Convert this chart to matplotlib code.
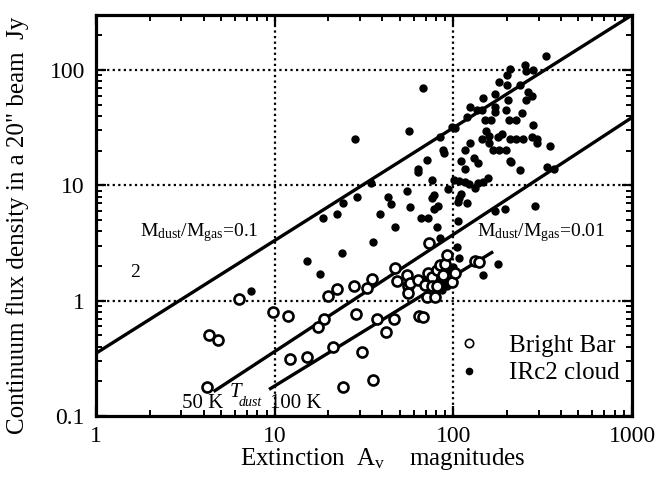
import numpy as np
import matplotlib
matplotlib.use('Agg')
import matplotlib.pyplot as plt
from matplotlib.lines import Line2D

plt.rcParams['font.family'] = ['Liberation Serif', 'DejaVu Serif']
plt.rcParams['mathtext.fontset'] = 'custom'
plt.rcParams['mathtext.rm'] = 'Liberation Serif'
plt.rcParams['mathtext.it'] = 'Liberation Serif:italic'

# Bright Bar (open circles): extinction Av, flux density Jy
bar_av = [6.3, 9.8, 4.3, 4.8, 4.2, 11.9, 18.9, 17.4, 28.5, 37.5, 46.7, 42,
          12.2, 15.2, 21.1, 30.9, 35.3, 24.2, 20, 22.4, 27.8, 32.7, 34.9, 47,
          48.2, 54.8, 55.5, 55.5, 73.3, 132, 139, 64.5, 67.3, 57, 63.6, 69.4,
          71, 79, 72.5, 75.6, 80.6, 84, 89.6, 92, 88, 98, 101.6, 75.6, 80.6]
bar_flux = [1.03, 0.80, 0.50, 0.456, 0.18, 0.735, 0.70, 0.59, 0.76, 0.70, 0.70, 0.54,
            0.31, 0.327, 0.40, 0.356, 0.205, 0.177, 1.10, 1.27, 1.34, 1.30, 1.55, 1.93,
            1.49, 1.67, 1.34, 1.16, 3.18, 2.2, 2.15, 0.73, 0.72, 1.42, 1.51, 1.37,
            1.07, 1.07, 1.73, 1.61, 1.85, 2.04, 2.1, 2.49, 1.67, 1.46, 1.73, 1.33, 1.33]

# IRc2 cloud (filled dots)
irc_av = [7.34, 24.2, 18.6, 22.4, 44.8, 38.8, 47.1, 35.6, 23.7, 15.2, 17.9, 57,
          28.1, 56.5, 34.6, 28.8, 43.2, 55.2, 67.3, 330, 207, 252, 256, 280,
          199, 181, 199, 236, 262, 274, 256, 171, 146, 203, 124, 136, 145, 171,
          196, 241, 119, 150, 162, 205, 225, 98, 102, 84, 280, 152, 186, 178,
          144, 159, 207, 225, 244, 275, 293, 293, 347, 124, 116, 166, 181, 196,
          88, 88.5, 71, 110, 131, 138, 207, 211, 63.6, 63.8, 116, 236, 333, 365,
          75.6, 101, 108, 116, 122, 133, 147, 157, 93, 77.5, 75.6, 111, 108, 106,
          119, 82, 77.5, 285, 194, 171, 65.6, 72.4, 80.6, 106, 84, 105, 108,
          147, 178, 171, 138, 159, 66, 72, 77, 83, 88, 92, 86, 95, 100]
irc_flux = [1.22, 6.98, 5.18, 5.6, 6.9, 5.6, 4.33, 3.2, 2.58, 2.19, 1.70, 6.5,
            25.2, 29.8, 10.4, 7.9, 7.9, 9.0, 70, 132, 103, 110, 98, 101,
            90.6, 79, 74, 74, 65, 59, 55, 62, 57, 55, 48, 45, 45, 43.5,
            45, 42, 39.4, 37, 37, 37, 37, 32.2, 31.5, 26.4, 33.4, 29.8, 27.9, 26.1,
            25.1, 23.2, 25.1, 25.1, 25.1, 26.4, 25.1, 23.2, 21.9, 23.2, 20.2, 20.2, 20.2, 20.2,
            20.3, 19.0, 16.6, 16.3, 17.1, 15.5, 16.3, 15.8, 13.8, 13.1, 13.8, 13.6, 14.5, 13.8,
            11.1, 11.1, 11.0, 10.8, 10.3, 9.4, 10.8, 11.6, 9.25, 8.2, 7.7, 8.5, 7.7, 7.2,
            7.0, 6.6, 6.3, 6.6, 6.3, 6.0, 5.18, 5.18, 4.33, 4.9, 3.47, 2.94, 2.33,
            1.67, 2.08, 48, 10.5, 27, 1.5, 1.6, 1.75, 1.55, 1.4, 1.35, 1.25, 1.8, 1.95]

# model lines (end points)
line_01_av = [1, 1000]
line_01_flux = [0.35, 300]
line_001_av = [4.55, 1000]
line_001_flux = [0.163, 38.8]
line_100k_av = [9.3, 167]
line_100k_flux = [0.17, 2.66]

xticks = [1, 10, 100, 1000]
xtick_labels = ['1', '10', '100', '1000']
yticks = [0.1, 1, 10, 100]
ytick_labels = ['0.1', '1', '10', '100']

fig = plt.figure(figsize=(6.71, 4.83), dpi=100)
ax = fig.add_axes([0.1431, 0.1387, 0.7988, 0.8302])
ax.set_xscale('log')
ax.set_yscale('log')
ax.set_xlim(1, 1000)
ax.set_ylim(0.1, 300)

for xv in [10, 100]:
    ax.axvline(xv, color='black', linestyle=(0, (1, 1.5)), linewidth=1.6, zorder=1)
for yv in [1, 10, 100]:
    ax.axhline(yv, color='black', linestyle=(0, (1, 1.5)), linewidth=1.6, zorder=1)

for lx, ly in [(line_01_av, line_01_flux), (line_001_av, line_001_flux),
               (line_100k_av, line_100k_flux)]:
    ax.plot(lx, ly, color='black', linewidth=2.4, solid_capstyle='butt', zorder=2)

ax.plot(irc_av, irc_flux, linestyle='none', marker='o', ms=5.0,
        color='black', zorder=3)
ax.plot(bar_av, bar_flux, linestyle='none', marker='o', ms=7.2, mfc='white',
        mec='black', mew=1.9, zorder=4)

ax.set_xticks(xticks)
ax.set_xticklabels(xtick_labels)
ax.set_yticks(yticks)
ax.set_yticklabels(ytick_labels)
ax.tick_params(which='both', direction='in', top=True, right=True, labelsize=17)
ax.tick_params(which='major', length=7, width=1.6, pad=7)
ax.tick_params(which='minor', length=4, width=1.4)
ax.tick_params(axis='y', pad=8)
for sp in ax.spines.values():
    sp.set_linewidth(2.3)

ax.set_xlabel(r'Extinction  A$_{\rm v}$    magnitudes', fontsize=18)
ax.xaxis.set_label_coords(0.535, -0.075)
ax.set_ylabel('Continuum flux density in a 20" beam  Jy', fontsize=18)
ax.yaxis.set_label_coords(-0.125, 0.475)

ax.text(1.76, 3.6, r'M$_{\rm dust}$/M$_{\rm gas}$=0.1', fontsize=14)
ax.text(136, 3.6, r'M$_{\rm dust}$/M$_{\rm gas}$=0.01', fontsize=14)
ax.text(1.55, 1.74, '2', fontsize=14, va='center')
ax.text(3.03, 0.117, '50 K', fontsize=15)
ax.text(5.6, 0.147, 'T', fontsize=15, style='italic')
ax.text(6.3, 0.122, 'dust', fontsize=10, style='italic')
ax.text(9.4, 0.117, '100 K', fontsize=15)

handles = [Line2D([], [], linestyle='none', marker='o', ms=6, mfc='white',
                  mec='black', mew=1.2),
           Line2D([], [], linestyle='none', marker='o', ms=4.5, color='black')]
ax.legend(handles, ['Bright Bar', 'IRc2 cloud'], loc='lower right',
          bbox_to_anchor=(1.01, 0.035), frameon=False, fontsize=18,
          handletextpad=1.1, labelspacing=0.2, borderpad=0.2, handlelength=1.0)

fig.savefig('out.png', dpi=100)
